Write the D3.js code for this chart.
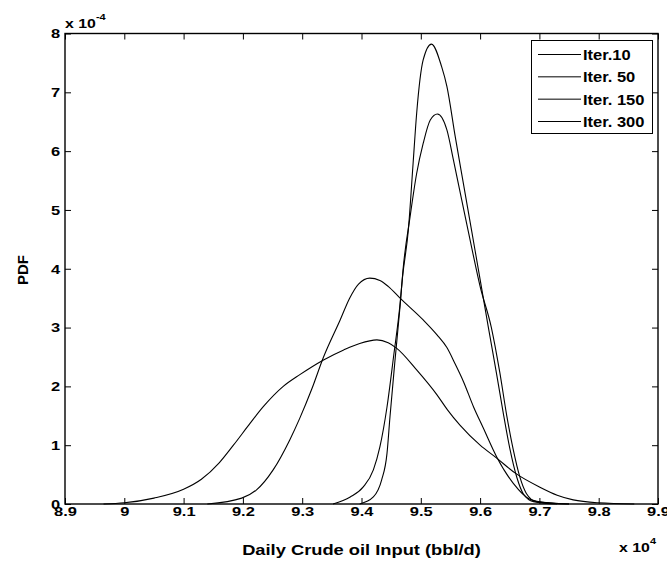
<!DOCTYPE html>
<html>
<head>
<meta charset="utf-8">
<script src="https://cdn.jsdelivr.net/npm/d3@7"></script>
<style>
  body { margin: 0; background: #fff; }
  svg { display: block; }
  text { font-family: "Liberation Sans", Arial, sans-serif; font-weight: bold; fill: #000; }
</style>
</head>
<body>
<svg id="chart" width="667" height="563"></svg>
<script>
// x in units of 1e4 bbl/d, y in units of 1e-4
var seriesNames = ["Iter.10", "Iter. 50", "Iter. 150", "Iter. 300"];

var iter10X = [8.965, 9.0, 9.05, 9.1, 9.13, 9.16, 9.184, 9.212, 9.234, 9.268, 9.296, 9.336, 9.37, 9.397, 9.426, 9.445, 9.459, 9.493, 9.527, 9.545, 9.566, 9.6, 9.628, 9.66, 9.7, 9.73, 9.757, 9.8, 9.86];
var iter10Y = [0, 0.02, 0.1, 0.25, 0.42, 0.7, 1.0, 1.37, 1.65, 2.0, 2.2, 2.45, 2.62, 2.73, 2.79, 2.74, 2.65, 2.28, 1.86, 1.6, 1.34, 1.0, 0.78, 0.52, 0.29, 0.15, 0.07, 0.02, 0];

var iter50X = [9.14, 9.198, 9.223, 9.251, 9.279, 9.296, 9.316, 9.336, 9.364, 9.38, 9.395, 9.414, 9.431, 9.445, 9.465, 9.504, 9.527, 9.544, 9.558, 9.572, 9.589, 9.605, 9.628, 9.656, 9.684, 9.712, 9.75];
var iter50Y = [0, 0.1, 0.24, 0.58, 1.09, 1.46, 1.95, 2.5, 3.13, 3.5, 3.74, 3.84, 3.8, 3.7, 3.5, 3.13, 2.88, 2.66, 2.38, 2.08, 1.65, 1.3, 0.8, 0.35, 0.08, 0.02, 0];

var iter150X = [9.397, 9.42, 9.434, 9.443, 9.448, 9.456, 9.465, 9.47, 9.482, 9.493, 9.504, 9.516, 9.528, 9.544, 9.555, 9.569, 9.586, 9.6, 9.619, 9.633, 9.645, 9.656, 9.667, 9.678, 9.695, 9.75];
var iter150Y = [0, 0.12, 0.41, 0.86, 1.48, 2.39, 3.36, 3.98, 4.89, 5.62, 6.13, 6.53, 6.63, 6.36, 5.85, 5.17, 4.35, 3.7, 3.0, 2.25, 1.5, 0.92, 0.46, 0.18, 0.04, 0];

var iter300X = [9.352, 9.381, 9.403, 9.42, 9.431, 9.443, 9.454, 9.465, 9.469, 9.479, 9.487, 9.493, 9.504, 9.518, 9.535, 9.544, 9.558, 9.572, 9.586, 9.6, 9.614, 9.628, 9.639, 9.65, 9.662, 9.673, 9.69, 9.73];
var iter300Y = [0, 0.12, 0.29, 0.58, 0.97, 1.65, 2.5, 3.4, 3.84, 4.66, 5.79, 6.64, 7.55, 7.82, 7.44, 7.1, 6.25, 5.44, 4.63, 3.82, 3.0, 2.2, 1.55, 0.95, 0.45, 0.17, 0.04, 0];

var xTicks = [8.9, 9.0, 9.1, 9.2, 9.3, 9.4, 9.5, 9.6, 9.7, 9.8, 9.9];
var xTickLabels = ["8.9", "9", "9.1", "9.2", "9.3", "9.4", "9.5", "9.6", "9.7", "9.8", "9.9"];
var yTicks = [0, 1, 2, 3, 4, 5, 6, 7, 8];
var yTickLabels = ["0", "1", "2", "3", "4", "5", "6", "7", "8"];

var allSeries = [
  { name: seriesNames[0], xs: iter10X, ys: iter10Y },
  { name: seriesNames[1], xs: iter50X, ys: iter50Y },
  { name: seriesNames[2], xs: iter150X, ys: iter150Y },
  { name: seriesNames[3], xs: iter300X, ys: iter300Y },
];

var stretch = 1.22; // text in the picture is a bit wider than tall

var dims = { left: 65, right: 658, top: 33.5, bottom: 504 };

var svg = d3.select("#chart");

var xScale = d3.scaleLinear().domain([8.9, 9.9]).range([dims.left, dims.right]);
var yScale = d3.scaleLinear().domain([0, 8]).range([dims.bottom, dims.top]);

// curves
var line = d3
  .line()
  .x(function (d) { return xScale(d[0]); })
  .y(function (d) { return yScale(d[1]); })
  .curve(d3.curveMonotoneX);

svg
  .append("g")
  .selectAll("path")
  .data(allSeries)
  .enter()
  .append("path")
  .attr("d", function (s) {
    return line(s.xs.map(function (x, i) { return [x, s.ys[i]]; }));
  })
  .attr("fill", "none")
  .attr("stroke", "#000")
  .attr("stroke-width", 1.1);

// axes, ticks pointing inward on all four sides
function styleAxis(g) {
  g.select(".domain").remove();
  g.selectAll(".tick line").attr("stroke", "#000").attr("stroke-width", 1);
  g.selectAll("text")
    .style("font-size", "13.5px")
    .style("font-family", "'Liberation Sans', Arial, sans-serif")
    .style("font-weight", "bold")
    .attr("fill", "#000");
}

var xAxis = d3
  .axisBottom(xScale)
  .tickValues(xTicks)
  .tickSize(-6)
  .tickPadding(2)
  .tickFormat(function (d, i) { return xTickLabels[i]; });

svg
  .append("g")
  .attr("transform", "translate(0," + dims.bottom + ")")
  .call(xAxis)
  .call(styleAxis)
  .selectAll("text")
  .attr("transform", "scale(" + stretch + ",1)");

svg
  .append("g")
  .attr("transform", "translate(0," + dims.top + ")")
  .call(d3.axisTop(xScale).tickValues(xTicks).tickSize(-6).tickFormat(""))
  .call(styleAxis);

var yAxis = d3
  .axisLeft(yScale)
  .tickValues(yTicks)
  .tickSize(-6)
  .tickPadding(4)
  .tickFormat(function (d, i) { return yTickLabels[i]; });

svg
  .append("g")
  .attr("transform", "translate(" + dims.left + ",0)")
  .call(yAxis)
  .call(styleAxis)
  .selectAll("text")
  .attr("transform", "scale(" + stretch + ",1)");

svg
  .append("g")
  .attr("transform", "translate(" + dims.right + ",0)")
  .call(d3.axisRight(yScale).tickValues(yTicks).tickSize(-6).tickFormat(""))
  .call(styleAxis);

// box
svg
  .append("rect")
  .attr("x", dims.left)
  .attr("y", dims.top)
  .attr("width", dims.right - dims.left)
  .attr("height", dims.bottom - dims.top)
  .attr("fill", "none")
  .attr("stroke", "#000")
  .attr("stroke-width", 1.4);

// exponent labels
var topExp = svg.append("text")
  .attr("transform", "translate(" + dims.left + ",28) scale(" + stretch + ",1)")
  .style("font-size", "13px");
topExp.append("tspan").text("x 10");
topExp.append("tspan").attr("dy", -8).style("font-size", "9px").text("-4");

var botExp = svg.append("text")
  .attr("transform", "translate(619,552) scale(" + stretch + ",1)")
  .style("font-size", "13px");
botExp.append("tspan").text("x 10");
botExp.append("tspan").attr("dy", -8).style("font-size", "9px").text("4");

// axis titles
svg
  .append("text")
  .attr("transform", "translate(" + ((dims.left + dims.right) / 2) + ",555) scale(" + stretch + ",1)")
  .attr("text-anchor", "middle")
  .style("font-size", "15px")
  .text("Daily Crude oil Input (bbl/d)");

svg
  .append("text")
  .attr("transform", "translate(28,270) rotate(-90)")
  .attr("text-anchor", "middle")
  .style("font-size", "15px")
  .text("PDF");

// legend
var legend = svg.append("g");
legend
  .append("rect")
  .attr("x", 531.5)
  .attr("y", 40.5)
  .attr("width", 121)
  .attr("height", 93)
  .attr("fill", "#fff")
  .attr("stroke", "#000")
  .attr("stroke-width", 1);

var rowY = d3.scalePoint().domain(seriesNames).range([54.5, 121.5]);

var rows = legend
  .selectAll("g.row")
  .data(allSeries)
  .enter()
  .append("g")
  .attr("class", "row")
  .attr("transform", function (s) { return "translate(0," + rowY(s.name) + ")"; });

rows
  .append("line")
  .attr("x1", 538)
  .attr("x2", 581)
  .attr("stroke", "#000")
  .attr("stroke-width", 1);

rows
  .append("text")
  .attr("transform", "translate(583,5.5) scale(1.1,1)")
  .style("font-size", "15px")
  .text(function (s) { return s.name; });
</script>
</body>
</html>
